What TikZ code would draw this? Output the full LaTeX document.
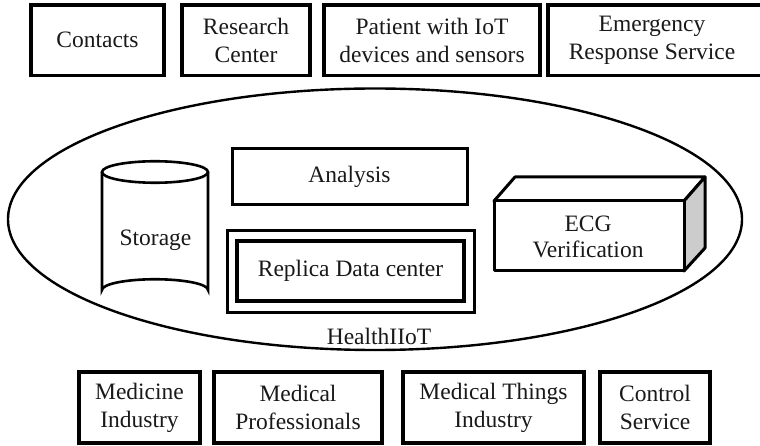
\documentclass[tikz,border=0pt]{standalone}
\usepackage{fontspec}
\setmainfont{Liberation Serif}
\newfontfamily\serifface{Liberation Serif}
\begin{document}
\begin{tikzpicture}[x=1pt,y=-1pt,
  txt/.style={font=\serifface\fontsize{23.5}{28}\selectfont, align=center, inner sep=0pt, text=black!90},
  outerbox/.style={txt, draw, line width=3.5pt},
  innerbox/.style={draw, line width=3pt, inner sep=0pt},
  ringline/.style={line width=2.4pt},
  solid3d/.style={line width=3pt, line join=round}
]
\useasboundingbox (0,0) rectangle (760,446);
\clip (0,0) rectangle (760,446);

% outer actors, top row
\node[outerbox, minimum width=133pt, minimum height=70.5pt] (contacts) at (97.5,40.25) {Contacts};
\node[outerbox, minimum width=128pt, minimum height=70.5pt] (research) at (246,40.25) {Research\\Center};
\node[outerbox, minimum width=216pt, minimum height=70.5pt] (patient) at (432,40.25) {Patient with IoT\\devices and sensors};
% this box runs on past the right margin, so only three sides show
\node[txt, minimum width=230pt, minimum height=70.5pt] (emergency) at (663,40.25) {};
\draw[line width=3.5pt] (emergency.north east) -- (emergency.north west)
  -- (emergency.south west) -- (emergency.south east);
\node[txt] (emergencytxt) at (652,40.25) {Emergency\\Response Service};

% HealthIIoT platform
\draw[ringline] (375,219.25) ellipse [x radius=367, y radius=130.75];
\node[txt] (platform) at (379,336) {HealthIIoT};

% storage cylinder
\coordinate (cylTop) at (155,172);
\draw[line width=2.6pt, fill=white]
  (102,172) -- (102,290) arc[start angle=180, end angle=360, x radius=53, y radius=10.75]
  -- (208,172);
\draw[line width=2.6pt] (cylTop) ellipse [x radius=53, y radius=10.75];
\node[txt, anchor=base] (storage) at (155.5,246) {Storage};

% analysis and replica data center
\node[innerbox, txt, line width=3pt, minimum width=235pt, minimum height=56pt] (analysis) at (349.5,177) {Analysis};
\node[innerbox, minimum width=247pt, minimum height=81pt] (replicaframe) at (350.5,271.5) {};
\node[innerbox, txt, line width=3.6pt, minimum width=227pt, minimum height=60pt] (replica) at (350.5,271) {Replica Data center};

% ECG verification block
\coordinate (fA) at (494,201);
\coordinate (fB) at (684,201);
\coordinate (fC) at (684,271);
\coordinate (bA) at (515,177);
\coordinate (bB) at (705,177);
\coordinate (bC) at (705,248);
\draw[solid3d, fill=white] (fA) -- (bA) -- (bB) -- (fB) -- cycle;
\draw[solid3d, fill=black!20] (fB) -- (bB) -- (bC) -- (fC) -- cycle;
\draw[solid3d, fill=white] (fA) rectangle (fC);
\node[txt, font=\serifface\fontsize{23.5}{26.5}\selectfont] (ecg) at (588,237) {ECG\\Verification};

% outer actors, bottom row
\node[outerbox, minimum width=121pt, minimum height=71pt] (medicine) at (139.5,407.5) {Medicine\\Industry};
\node[outerbox, minimum width=168pt, minimum height=71pt] (professionals) at (298,407.5) {Medical\\Professionals};
\node[outerbox, minimum width=181pt, minimum height=71pt] (things) at (493.5,407.5) {Medical Things\\Industry};
\node[outerbox, minimum width=110pt, minimum height=71pt] (control) at (655,407.5) {Control\\Service};
\end{tikzpicture}
\end{document}
